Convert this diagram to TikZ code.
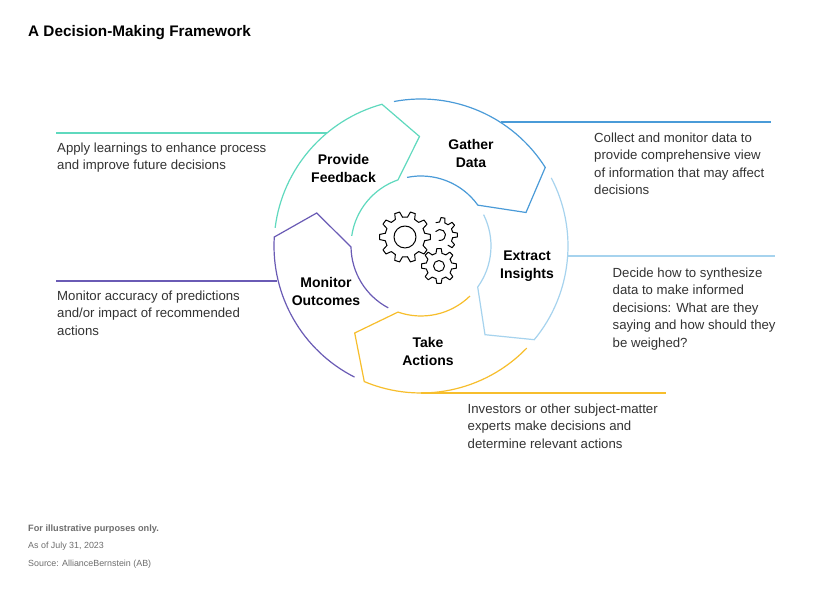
\documentclass[tikz,border=0pt]{standalone}
\usepackage{fontspec}
\setmainfont{Liberation Sans}
\usetikzlibrary{calc}
\definecolor{feedbackteal}{HTML}{5FD9BE}
\definecolor{gatherblue}{HTML}{4A9BD8}
\definecolor{insightblue}{HTML}{A6D3EE}
\definecolor{actionyellow}{HTML}{F7BE2C}
\definecolor{monitorpurple}{HTML}{6A5BB5}
\definecolor{bodygrey}{HTML}{333333}
\definecolor{notegrey}{HTML}{6E6E6E}
\tikzset{
  ringline/.style={line width=1.2pt,line join=miter},
  stagelabel/.style={font=\fontsize{14}{18}\selectfont\bfseries,align=center,text=black},
  desclabel/.style={font=\fontsize{13.2}{17.5}\selectfont,align=left,anchor=north west,inner sep=0pt,text=bodygrey},
  notelabel/.style={font=\fontsize{8.9}{11}\selectfont,anchor=west,inner sep=0pt,text=notegrey},
  gearline/.style={line width=1pt,line join=round,line cap=round,black},
}
% #1 colour, #2 #3 outer arc angles, #4 corner, #5 #6 inner arc angles
\newcommand{\stagering}[6]{%
  \draw[ringline,#1] ($(c)+(#2:147)$) arc (#2:#3:147) -- (#4) -- ($(c)+(#5:70)$) arc (#5:#6:70);%
}
% #1 centre, #2 root radius, #3 tip radius, #4 pitch, #5 tooth angles
\newcommand{\gearteeth}[5]{%
  \foreach \a in {#5} {
    \draw[gearline] (#1) +(\a-0.30*#4:#2) -- +(\a-0.16*#4:#3) -- +(\a+0.16*#4:#3)
      -- +(\a+0.30*#4:#2) -- +(\a+0.70*#4:#2);
  }%
}
\begin{document}
\begin{tikzpicture}[x=1pt,y=1pt]
\useasboundingbox[fill=white] (0,0) rectangle (820,612);
\coordinate (c) at (421,366);
% Title
\node[anchor=west,inner sep=0pt,font=\fontsize{15.3}{18}\selectfont\bfseries,text=black] (title) at (28,579) {A Decision-Making Framework};
% Provide Feedback
\coordinate (fbcorner) at (419.5,475.5);
\stagering{feedbackteal}{172.9}{105.4}{fbcorner}{109.2}{171.7}
\coordinate (fb1) at (56,479);
\coordinate (fb2) at (327,479);
\draw[ringline,feedbackteal] (fb1) -- (fb2);
% Gather Data
\coordinate (gdcorner) at (526,399.5);
\stagering{gatherblue}{100.6}{32.3}{gdcorner}{35.7}{101.5}
\coordinate (gd1) at (501,490);
\coordinate (gd2) at (771,490);
\draw[ringline,gatherblue] (gd1) -- (gd2);
% Extract Insights
\coordinate (eicorner) at (485,277.3);
\stagering{insightblue}{27.6}{-39.6}{eicorner}{-35.9}{26.6}
\coordinate (ei1) at (568,356);
\coordinate (ei2) at (775,356);
\draw[ringline,insightblue] (ei1) -- (ei2);
% Take Actions
\coordinate (tacorner) at (354.7,279);
\stagering{actionyellow}{-44}{-112.7}{tacorner}{-109.2}{-45.6}
\coordinate (ta1) at (421,219);
\coordinate (ta2) at (666,219);
\draw[ringline,actionyellow] (ta1) -- (ta2);
% Monitor Outcomes
\coordinate (mocorner) at (316.7,399);
\stagering{monitorpurple}{243.1}{176.5}{mocorner}{180.8}{242.1}
\coordinate (mo1) at (56,331);
\coordinate (mo2) at (277,331);
\draw[ringline,monitorpurple] (mo1) -- (mo2);
% Gears
\coordinate (gearA) at (405,375);
\coordinate (gearB) at (440,377);
\coordinate (gearC) at (439,346);
\gearteeth{gearA}{20}{25.5}{36}{0,36,...,324}
\draw[gearline] (gearA) circle (11);
\gearteeth{gearB}{13}{17.5}{40}{-40,0,...,80}
\draw[gearline] (gearB) ++(140:5.5) arc (140:-100:5.5);
\gearteeth{gearC}{13}{17.5}{45}{0,45,...,315}
\draw[gearline] (gearC) circle (5.5);
% Stage labels
\node[stagelabel] (feedback) at (343.5,443) {Provide\\Feedback};
\node[stagelabel] (gather) at (471,458) {Gather\\Data};
\node[stagelabel] (extract) at (527,346) {Extract\\Insights};
\node[stagelabel] (take) at (428,260) {Take\\Actions};
\node[stagelabel] (monitor) at (326,320) {Monitor\\Outcomes};
% Descriptions
\node[desclabel] (feedbackdesc) at (57,469.5) {Apply learnings to enhance process\\and improve future decisions};
\node[desclabel] (gatherdesc) at (594,479.5) {Collect and monitor data to\\provide comprehensive view\\of information that may affect\\decisions};
\node[desclabel] (extractdesc) at (612.5,344.5) {Decide how to synthesize\\data to make informed\\decisions: What are they\\saying and how should they\\be weighed?};
\node[desclabel] (takedesc) at (467.5,208.5) {Investors or other subject-matter\\experts make decisions and\\determine relevant actions};
\node[desclabel] (monitordesc) at (57,321.5) {Monitor accuracy of predictions\\and/or impact of recommended\\actions};
% Footnotes
\node[notelabel,font=\fontsize{9.2}{11}\selectfont\bfseries] (note1) at (28,82.5) {For illustrative purposes only.};
\node[notelabel] (note2) at (28,65.5) {As of July 31, 2023};
\node[notelabel] (note3) at (28,47.5) {Source: AllianceBernstein (AB)};
\end{tikzpicture}
\end{document}
